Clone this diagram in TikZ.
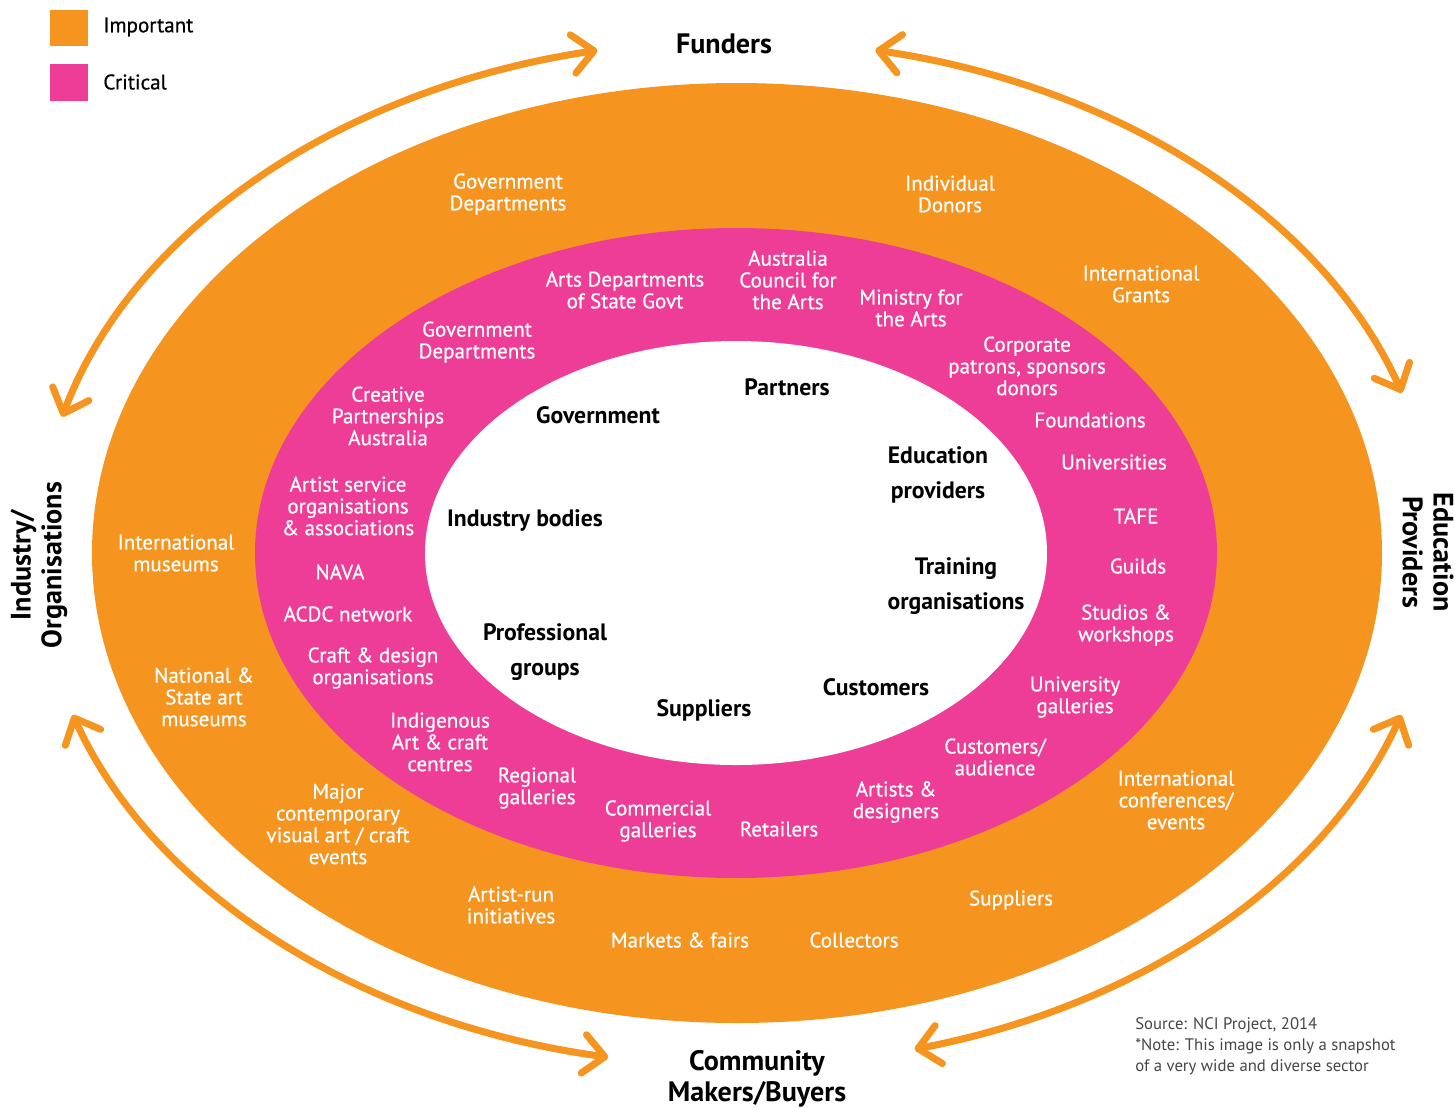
\documentclass[tikz,border=0pt]{standalone}
\usepackage{fontspec}
\setmainfont{PT Sans}
\newfontfamily\medfont[FakeBold=0.6]{PT Sans}
\usetikzlibrary{arrows.meta}
\definecolor{orng}{RGB}{246,148,32}
\definecolor{pnk}{RGB}{237,61,150}
\definecolor{notegray}{RGB}{70,70,70}
\begin{document}
\begin{tikzpicture}[x=0.02cm,y=-0.02cm,
  lab/.style={text=white, align=center, font=\medfont\fontsize{12}{12.4}\selectfont, inner sep=0pt},
  core/.style={text=black, align=center, font=\bfseries\fontsize{13.5}{20}\selectfont, inner sep=0pt},
  ttl/.style={text=black, align=center, font=\bfseries\fontsize{16}{17.5}\selectfont, inner sep=0pt},
  leg/.style={text=black, anchor=west, font=\medfont\fontsize{12}{14}\selectfont, inner sep=0pt},
  cyc/.style={draw=orng, line width=4pt, line cap=round,
    {Straight Barb[length=12pt,width=22pt,round]}-{Straight Barb[length=12pt,width=22pt,round]}},
]
\useasboundingbox (0,0) rectangle (1455,1107);

% rings
\fill[orng] (737,553) ellipse [x radius=645, y radius=470];
\fill[pnk] (736,553) ellipse [x radius=481, y radius=325];
\fill[white] (736,553) ellipse [x radius=311, y radius=212];

% legend
\fill[orng] (50,10) rectangle (88,46);
\fill[pnk] (50,64) rectangle (88,101);
\node[leg] (limp) at (103,27) {Important};
\node[leg] (lcrit) at (103,82) {Critical};

% cycle arrows
\coordinate (a1) at ([shift={(737,553)}]195.4:700 and 513);
\coordinate (a2) at ([shift={(737,553)}]281.4:700 and 513);
\coordinate (a3) at ([shift={(737,553)}]18.4:700 and 513);
\coordinate (a4) at ([shift={(737,553)}]100.6:700 and 513);
\draw[cyc] (a1) arc[start angle=195.4, end angle=258.5, x radius=700, y radius=513];
\draw[cyc] (a2) arc[start angle=281.4, end angle=341.8, x radius=700, y radius=513];
\draw[cyc] (a3) arc[start angle=18.4, end angle=75.3, x radius=700, y radius=513];
\draw[cyc] (a4) arc[start angle=100.6, end angle=161.6, x radius=700, y radius=513];

% titles
\node[ttl] (tfund) at (724,44) {Funders};
\node[ttl, rotate=90] (tind) at (39,565) {Industry/\\Organisations};
\node[ttl, rotate=-90] (tedu) at (1428,552) {Education\\Providers};
\node[ttl] (tcom) at (757,1079) {Community\\Makers/Buyers};

% core labels
\node[core] (cpart) at (787,387) {Partners};
\node[core] (cgov) at (598,415) {Government};
\node[core] (cedu) at (938,475) {Education\\providers};
\node[core] (cind) at (525,520) {Industry bodies};
\node[core] (ctrain) at (956,586) {Training\\organisations};
\node[core] (cprof) at (545,652) {Professional\\groups};
\node[core] (ccust) at (876,687) {Customers};
\node[core] (csupp) at (704,710) {Suppliers};

% critical ring
\node[lab] (p1) at (625,290) {Arts Departments\\of State Govt};
\node[lab] (p2) at (788,280) {Australia\\Council for\\the Arts};
\node[lab] (p3) at (911,308) {Ministry for\\the Arts};
\node[lab] (p4) at (477,342) {Government\\Departments};
\node[lab] (p5) at (1027,366) {Corporate\\patrons, sponsors\\donors};
\node[lab] (p6) at (388,416) {Creative\\Partnerships\\Australia};
\node[lab] (p7) at (1090,420) {Foundations};
\node[lab] (p8) at (1114,462) {Universities};
\node[lab] (p9) at (348,506) {Artist service\\organisations\\\& associations};
\node[lab] (p10) at (1136,516) {TAFE};
\node[lab] (p11) at (340,572) {NAVA};
\node[lab] (p12) at (1138,566) {Guilds};
\node[lab] (p13) at (348,614) {ACDC network};
\node[lab] (p14) at (1126,625) {Studios \&\\workshops};
\node[lab] (p15) at (373,668) {Craft \& design\\organisations};
\node[lab] (p16) at (1075,697) {University\\galleries};
\node[lab] (p17) at (440,742) {Indigenous\\Art \& craft\\centres};
\node[lab] (p18) at (995,757) {Customers/\\audience};
\node[lab] (p19) at (537,788) {Regional\\galleries};
\node[lab] (p20) at (896,802) {Artists \&\\designers};
\node[lab] (p21) at (658,821) {Commercial\\galleries};
\node[lab] (p22) at (779,829) {Retailers};

% important ring
\node[lab] (o1) at (508,194) {Government\\Departments};
\node[lab] (o2) at (950,194) {Individual\\Donors};
\node[lab] (o3) at (1141,284) {International\\Grants};
\node[lab] (o4) at (176,553) {International\\museums};
\node[lab] (o5) at (204,697) {National \&\\State art\\museums};
\node[lab] (o6) at (338,824) {Major\\contemporary\\visual art / craft\\events};
\node[lab] (o7) at (1176,800) {International\\conferences/\\events};
\node[lab] (o8) at (511,905) {Artist-run\\initiatives};
\node[lab] (o9) at (1011,900) {Suppliers};
\node[lab] (o10) at (680,940) {Markets \& fairs};
\node[lab] (o11) at (854,940) {Collectors};

% source note
\node[text=notegray, anchor=north west, align=left, inner sep=0pt,
      font=\fontsize{9.5}{12}\selectfont] (src) at (1135,1017)
  {Source: NCI Project, 2014\\*Note: This image is only a snapshot\\of a very wide and diverse sector};
\end{tikzpicture}
\end{document}
